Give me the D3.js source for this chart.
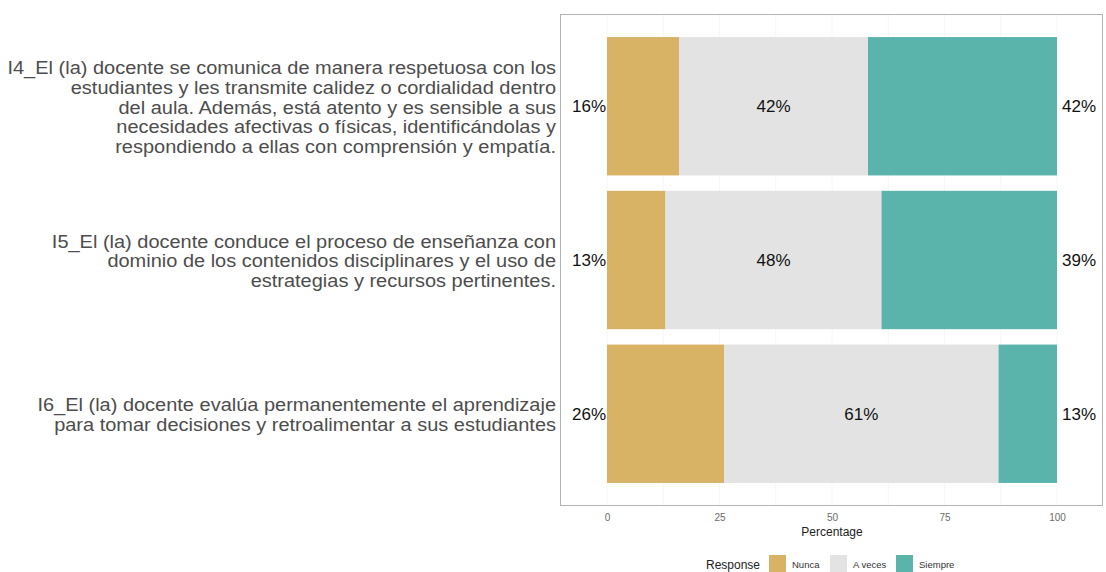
<!DOCTYPE html>
<html><head><meta charset="utf-8">
<script src="https://cdn.jsdelivr.net/npm/d3@7"></script>
<style>body{margin:0;background:#fff}svg{display:block;font-family:"Liberation Sans",Arial,sans-serif}</style>
</head><body><svg id="c" width="1106" height="572"></svg>
<script>
const categories = ["I4","I5","I6"];
const categoryLabels = [
  ["I4_El (la) docente se comunica de manera respetuosa con los","estudiantes y les transmite calidez o cordialidad dentro","del aula. Además, está atento y es sensible a sus","necesidades afectivas o físicas, identificándolas y","respondiendo a ellas con comprensión y empatía."],
  ["I5_El (la) docente conduce el proceso de enseñanza con","dominio de los contenidos disciplinares y el uso de","estrategias y recursos pertinentes."],
  ["I6_El (la) docente evalúa permanentemente el aprendizaje","para tomar decisiones y retroalimentar a sus estudiantes"]
];
const responses = ["Nunca","A veces","Siempre"];
const nunca = [16,13,26];
const aveces = [42,48,61];
const siempre = [42,39,13];
const xTicks = [0,25,50,75,100];
const colors = ["#d8b365","#e3e3e3","#5ab4ac"];

const svg = d3.select("#c");
const panel = {l:560, r:1103, t:14, b:506};
const x = d3.scaleLinear().domain([0,100]).range([607,1057]);
const y = d3.scaleBand().domain(categories).range([panel.t, panel.b]).paddingInner(0.1).paddingOuter(0.15);
const color = d3.scaleOrdinal().domain(responses).range(colors);

// panel background & grid
svg.append("rect").attr("x",panel.l).attr("y",panel.t).attr("width",panel.r-panel.l).attr("height",panel.b-panel.t).attr("fill","#fff");
const minor = d3.range(0,101,12.5);
svg.append("g").selectAll("line").data(minor).join("line")
  .attr("x1",d=>x(d)).attr("x2",d=>x(d)).attr("y1",panel.t).attr("y2",panel.b)
  .attr("stroke","#f6f6f6").attr("stroke-width",1);

const rows = categories.map((c,i)=>({c, vals:[nunca[i],aveces[i],siempre[i]]}));
const segs = [];
rows.forEach(r=>{let acc=0; r.vals.forEach((v,j)=>{segs.push({c:r.c,resp:responses[j],x0:acc,x1:acc+v}); acc+=v;});});
svg.append("g").selectAll("rect").data(segs).join("rect")
  .attr("x",d=>x(d.x0)).attr("width",d=>x(d.x1)-x(d.x0))
  .attr("y",d=>y(d.c)).attr("height",y.bandwidth())
  .attr("fill",d=>color(d.resp));

svg.append("rect").attr("x",panel.l+0.5).attr("y",panel.t+0.5).attr("width",panel.r-panel.l-1).attr("height",panel.b-panel.t-1)
  .attr("fill","none").attr("stroke","#b3b3b3").attr("stroke-width",1);

// percent labels
const lab = svg.append("g").attr("font-size",17).attr("fill","#111");
rows.forEach((r,i)=>{
  const cy = y(r.c)+y.bandwidth()/2;
  lab.append("text").attr("x",x(0)-1).attr("y",cy).attr("dy","0.35em").attr("text-anchor","end").text(r.vals[0]+"%");
  lab.append("text").attr("x",x(r.vals[0]+r.vals[1]/2)).attr("y",cy).attr("dy","0.35em").attr("text-anchor","middle").text(r.vals[1]+"%");
  lab.append("text").attr("x",x(100)+5).attr("y",cy).attr("dy","0.35em").attr("text-anchor","start").text(r.vals[2]+"%");
});

// category labels
const cl = svg.append("g").attr("font-size",18.5).attr("fill","#4d4d4d")
  .attr("transform","translate(556,0) scale(1.08,1)");
categories.forEach((c,i)=>{
  const lines = categoryLabels[i];
  const cy = y(c)+y.bandwidth()/2 + 1;
  const lh = 19.7;
  const t = cl.append("text").attr("text-anchor","end");
  lines.forEach((ln,k)=>{
    t.append("tspan").attr("x",0).attr("y",cy + (k-(lines.length-1)/2)*lh).attr("dy","0.35em").text(ln);
  });
});

// x axis
const ax = svg.append("g").attr("transform",`translate(0,${panel.b})`)
  .call(d3.axisBottom(x).tickValues(xTicks).tickSize(0).tickPadding(8));
ax.select(".domain").remove();
ax.selectAll("text").attr("font-size",10).attr("fill","#6b6b6b").attr("font-family","Liberation Sans, Arial, sans-serif");
svg.append("text").attr("x",x(50)).attr("y",536).attr("text-anchor","middle").attr("font-size",12).attr("fill","#222").text("Percentage");

// legend
const lg = svg.append("g");
lg.append("text").attr("x",706).attr("y",569).attr("font-size",12).attr("fill","#222").text("Response");
const legX = [769,830,896];
responses.forEach((r,i)=>{
  lg.append("rect").attr("x",legX[i]).attr("y",555).attr("width",17).attr("height",17).attr("fill",color(r));
  lg.append("text").attr("x",legX[i]+23).attr("y",568).attr("font-size",9.5).attr("fill","#333").text(r);
});
</script></body></html>
